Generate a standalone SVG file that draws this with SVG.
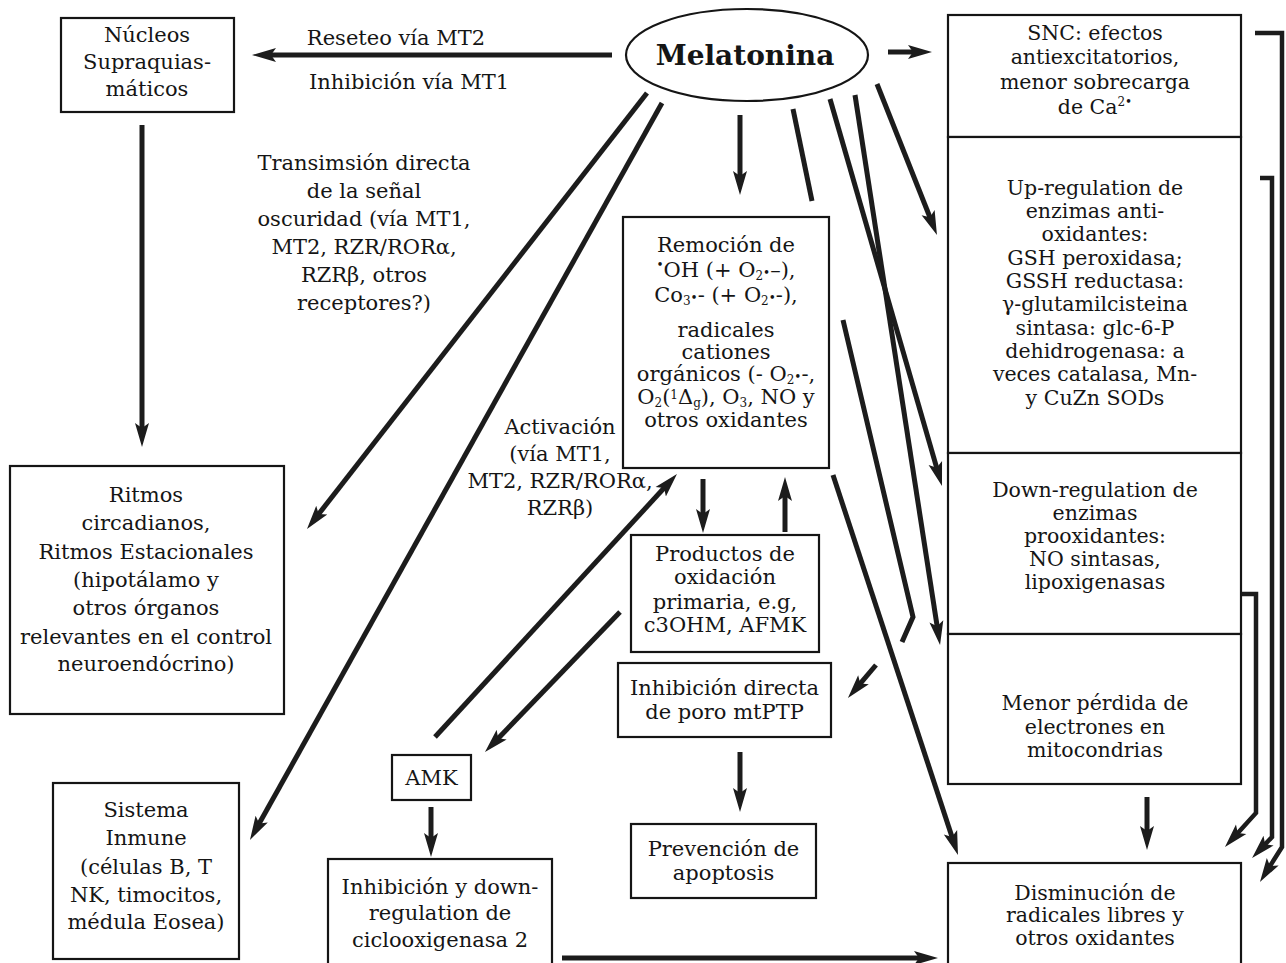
<svg xmlns="http://www.w3.org/2000/svg" width="1286" height="963" viewBox="0 0 1286 963">
<defs>
<style>
.box{fill:#fff;stroke:#151515;stroke-width:2.2}
.t{font-family:"DejaVu Serif",serif;font-size:21px;fill:#151515;text-anchor:middle}
.r{font-size:20.5px}
.c{stroke:#1c1c1c;stroke-width:5;fill:none}
.b{stroke:#1c1c1c;stroke-width:4.5;fill:none}
.sub{font-size:12px}
</style>
<marker id="ah" markerUnits="userSpaceOnUse" markerWidth="26" markerHeight="16" refX="10" refY="8" orient="auto" viewBox="0 0 26 16">
<path d="M0,1 L24,8 L0,15 L5,8 z" fill="#1c1c1c"/>
</marker>
</defs>
<rect width="1286" height="963" fill="#fff"/>

<g id="connectors">
<line class="c" x1="612" y1="55" x2="266" y2="55" marker-end="url(#ah)"/>
<line class="c" x1="888" y1="52" x2="918" y2="52" marker-end="url(#ah)"/>
<line class="c" x1="142" y1="125" x2="142" y2="433" marker-end="url(#ah)"/>
<line class="c" x1="647" y1="93" x2="315.6" y2="518" marker-end="url(#ah)"/>
<line class="c" x1="662" y1="103" x2="256.8" y2="827.8" marker-end="url(#ah)"/>
<line class="c" x1="740" y1="115" x2="740" y2="181" marker-end="url(#ah)"/>
<line class="c" x1="877" y1="84" x2="931.8" y2="222" marker-end="url(#ah)"/>
<line class="c" x1="830" y1="99" x2="938.1" y2="472.6" marker-end="url(#ah)"/>
<line class="c" x1="855" y1="95" x2="937.9" y2="631.2" marker-end="url(#ah)"/>
<line class="c" x1="833" y1="475" x2="953.6" y2="841.7" marker-end="url(#ah)"/>
<line class="c" x1="793" y1="109" x2="812" y2="201"/>
<polyline class="c" points="843,320 913,617 902,642"/>
<line class="c" x1="876" y1="665" x2="857" y2="687.3" marker-end="url(#ah)"/>
<line class="c" x1="703" y1="479" x2="703" y2="519" marker-end="url(#ah)"/>
<line class="c" x1="785" y1="532" x2="785" y2="491" marker-end="url(#ah)"/>
<line class="c" x1="435" y1="737" x2="667.5" y2="484.3" marker-end="url(#ah)"/>
<line class="c" x1="620" y1="612" x2="494.7" y2="741.9" marker-end="url(#ah)"/>
<line class="c" x1="431" y1="807" x2="431" y2="843" marker-end="url(#ah)"/>
<line class="c" x1="740" y1="752" x2="740" y2="798" marker-end="url(#ah)"/>
<line class="c" x1="562" y1="958" x2="924" y2="958" marker-end="url(#ah)"/>
<line class="c" x1="1147" y1="797" x2="1147" y2="836" marker-end="url(#ah)"/>
<polyline class="b" points="1255,33 1282,33 1282,847 1267.4,870.2" marker-end="url(#ah)"/>
<polyline class="b" points="1260,178 1272,178 1272,837 1261.7,847.9" marker-end="url(#ah)"/>
<polyline class="b" points="1241,594 1256,594 1256,813 1234.4,836.7" marker-end="url(#ah)"/>
</g>

<g id="labels">
<text class="t" x="396" y="45">Reseteo vía MT2</text>
<text class="t" x="409" y="89">Inhibición vía MT1</text>
<text class="t" x="364" y="170">Transimsión directa</text>
<text class="t" x="364" y="198">de la señal</text>
<text class="t" x="364" y="226">oscuridad (vía MT1,</text>
<text class="t" x="364" y="254">MT2, RZR/RORα,</text>
<text class="t" x="364" y="282">RZRβ, otros</text>
<text class="t" x="364" y="310">receptores?)</text>
<text class="t" x="560" y="434">Activación</text>
<text class="t" x="560" y="461">(vía MT1,</text>
<text class="t" x="560" y="488">MT2, RZR/RORα,</text>
<text class="t" x="560" y="515">RZRβ)</text>
</g>

<g id="melatonina">
<ellipse cx="747" cy="55" rx="121" ry="46" fill="#fff" stroke="#151515" stroke-width="2.2"/>
<text class="t" x="745" y="65" style="font-size:28px;font-weight:bold">Melatonina</text>
</g>

<g id="nucleos">
<rect class="box" x="61" y="18" width="173" height="94"/>
<text class="t" x="147" y="42">Núcleos</text>
<text class="t" x="147" y="69">Supraquias-</text>
<text class="t" x="147" y="96">máticos</text>
</g>

<g id="ritmos">
<rect class="box" x="10" y="466" width="274" height="248"/>
<text class="t" x="146" y="502">Ritmos</text>
<text class="t" x="146" y="530">circadianos,</text>
<text class="t" x="146" y="559">Ritmos Estacionales</text>
<text class="t" x="146" y="587">(hipotálamo y</text>
<text class="t" x="146" y="615">otros órganos</text>
<text class="t" x="146" y="644">relevantes en el control</text>
<text class="t" x="146" y="671">neuroendócrino)</text>
</g>

<g id="sistema">
<rect class="box" x="53" y="783" width="186" height="176"/>
<text class="t" x="146" y="817">Sistema</text>
<text class="t" x="146" y="845">Inmune</text>
<text class="t" x="146" y="874">(células B, T</text>
<text class="t" x="146" y="902">NK, timocitos,</text>
<text class="t" x="146" y="929">médula Eosea)</text>
</g>

<g id="remocion">
<rect class="box" x="623" y="217" width="206" height="251"/>
<text class="t" x="726" y="252">Remoción de</text>
<text class="t" x="726" y="277"><tspan class="sub" dy="-8">•</tspan><tspan dy="8">OH (+ O</tspan><tspan class="sub" dy="3">2</tspan><tspan class="sub" dy="-3">•</tspan><tspan>–),</tspan></text>
<text class="t" x="726" y="302">Co<tspan class="sub" dy="3">3</tspan><tspan class="sub" dy="-3">•</tspan><tspan>- (+ O</tspan><tspan class="sub" dy="3">2</tspan><tspan class="sub" dy="-3">•</tspan><tspan>-),</tspan></text>
<text class="t" x="726" y="337">radicales</text>
<text class="t" x="726" y="359">cationes</text>
<text class="t" x="726" y="381">orgánicos (- O<tspan class="sub" dy="3">2</tspan><tspan class="sub" dy="-3">•</tspan><tspan>-,</tspan></text>
<text class="t" x="726" y="404">O<tspan class="sub" dy="3">2</tspan><tspan dy="-3">(</tspan><tspan class="sub" dy="-5">1</tspan><tspan dy="5">Δ</tspan><tspan class="sub" dy="3">g</tspan><tspan dy="-3">), O</tspan><tspan class="sub" dy="3">3</tspan><tspan dy="-3">, NO y</tspan></text>
<text class="t" x="726" y="427">otros oxidantes</text>
</g>

<g id="productos">
<rect class="box" x="631" y="535" width="188" height="117"/>
<text class="t" x="725" y="561">Productos de</text>
<text class="t" x="725" y="584">oxidación</text>
<text class="t" x="725" y="609">primaria, e.g,</text>
<text class="t" x="725" y="632">c3OHM, AFMK</text>
</g>

<g id="mtptp">
<rect class="box" x="618" y="663" width="213" height="74"/>
<text class="t" x="724.5" y="695">Inhibición directa</text>
<text class="t" x="724.5" y="719">de poro mtPTP</text>
</g>

<g id="prevencion">
<rect class="box" x="631" y="824" width="185" height="74"/>
<text class="t" x="723.5" y="856">Prevención de</text>
<text class="t" x="723.5" y="880">apoptosis</text>
</g>

<g id="amk">
<rect class="box" x="392" y="755" width="79" height="45"/>
<text class="t" x="431.5" y="785">AMK</text>
</g>

<g id="ciclooxigenasa">
<rect class="box" x="328" y="859" width="224" height="125"/>
<text class="t" x="440" y="894">Inhibición y down-</text>
<text class="t" x="440" y="920">regulation de</text>
<text class="t" x="440" y="947">ciclooxigenasa 2</text>
</g>

<g id="snc">
<rect class="box" x="948" y="15" width="293" height="122"/>
<text class="t r" x="1095" y="40">SNC: efectos</text>
<text class="t r" x="1095" y="64">antiexcitatorios,</text>
<text class="t r" x="1095" y="89">menor sobrecarga</text>
<text class="t r" x="1095" y="114">de Ca<tspan class="sub" dy="-8">2•</tspan></text>
</g>

<g id="upregulation">
<rect class="box" x="948" y="137" width="293" height="316"/>
<text class="t r" x="1095" y="195">Up-regulation de</text>
<text class="t r" x="1095" y="218">enzimas anti-</text>
<text class="t r" x="1095" y="241">oxidantes:</text>
<text class="t r" x="1095" y="265">GSH peroxidasa;</text>
<text class="t r" x="1095" y="288">GSSH reductasa:</text>
<text class="t r" x="1095" y="311">γ-glutamilcisteina</text>
<text class="t r" x="1095" y="335">sintasa: glc-6-P</text>
<text class="t r" x="1095" y="358">dehidrogenasa: a</text>
<text class="t r" x="1095" y="381">veces catalasa, Mn-</text>
<text class="t r" x="1095" y="405">y CuZn SODs</text>
</g>

<g id="downregulation">
<rect class="box" x="948" y="453" width="293" height="181"/>
<text class="t r" x="1095" y="497">Down-regulation de</text>
<text class="t r" x="1095" y="520">enzimas</text>
<text class="t r" x="1095" y="543">prooxidantes:</text>
<text class="t r" x="1095" y="566">NO sintasas,</text>
<text class="t r" x="1095" y="589">lipoxigenasas</text>
</g>

<g id="menor">
<rect class="box" x="948" y="634" width="293" height="150"/>
<text class="t r" x="1095" y="710">Menor pérdida de</text>
<text class="t r" x="1095" y="734">electrones en</text>
<text class="t r" x="1095" y="757">mitocondrias</text>
</g>

<g id="disminucion">
<rect class="box" x="948" y="863" width="293" height="115"/>
<text class="t r" x="1095" y="900">Disminución de</text>
<text class="t r" x="1095" y="922">radicales libres y</text>
<text class="t r" x="1095" y="945">otros oxidantes</text>
</g>
</svg>
